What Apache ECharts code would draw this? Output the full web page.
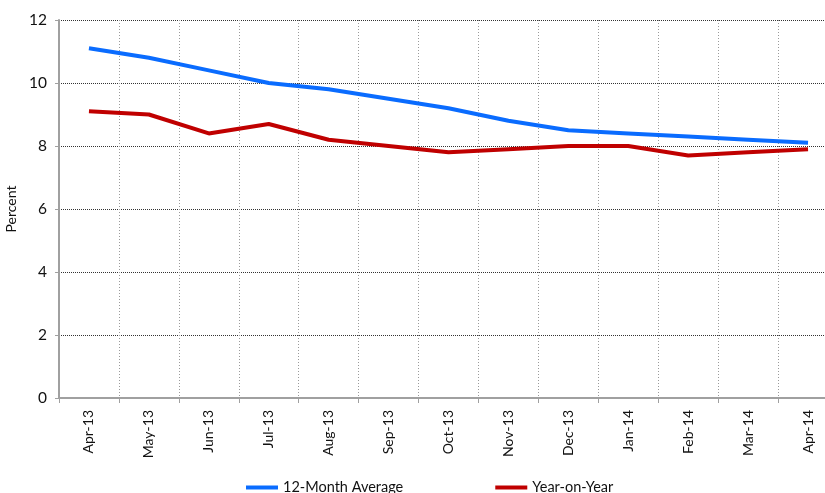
<!DOCTYPE html>
<html>
<head>
<meta charset="utf-8">
<script src="https://cdn.jsdelivr.net/npm/echarts@6/dist/echarts.min.js"></script>
<style>
  html, body { margin: 0; padding: 0; background: #fff; }
  #chart { width: 825px; height: 493px; }
</style>
</head>
<body>
<div id="chart"></div>
<script>
// Monthly inflation, percent
const months = ['Apr-13', 'May-13', 'Jun-13', 'Jul-13', 'Aug-13', 'Sep-13', 'Oct-13',
                'Nov-13', 'Dec-13', 'Jan-14', 'Feb-14', 'Mar-14', 'Apr-14'];
const avg12Month = [11.1, 10.8, 10.4, 10.0, 9.8, 9.5, 9.2, 8.8, 8.5, 8.4, 8.3, 8.2, 8.1];
const yearOnYear = [9.1, 9.0, 8.4, 8.7, 8.2, 8.0, 7.8, 7.9, 8.0, 8.0, 7.7, 7.8, 7.9];

const FONT = 'Lato, "Open Sans", sans-serif';

const chart = echarts.init(document.getElementById('chart'), null, { renderer: 'canvas' });
chart.setOption({
  animation: false,
  backgroundColor: '#ffffff',
  textStyle: { fontFamily: FONT, color: '#111' },
  // plot area runs past the right edge of the canvas
  grid: {
    left: 59, top: 20, height: 378, width: 779,
    containLabel: false,
    outerBoundsMode: 'none'
  },
  legend: {
    left: 241,
    top: 475,
    itemGap: 92,
    itemWidth: 32,
    itemHeight: 4,
    icon: 'rect',
    textStyle: { fontFamily: FONT, fontSize: 14.5, color: '#111', padding: [5, 0, 0, 0] },
    data: ['12-Month Average', 'Year-on-Year']
  },
  xAxis: {
    type: 'category',
    data: months,
    boundaryGap: true,
    axisLine: { lineStyle: { color: '#a0a0a0', width: 2 } },
    axisTick: { show: true, length: 5, lineStyle: { color: '#a0a0a0' } },
    axisLabel: { rotate: 90, margin: 12, fontSize: 14, fontFamily: FONT, color: '#111' },
    splitLine: { show: true, lineStyle: { color: '#9a9a9a', type: [1, 2], width: 1 } }
  },
  yAxis: {
    type: 'value',
    min: 0,
    max: 12,
    interval: 2,
    name: 'Percent',
    nameLocation: 'middle',
    nameGap: 37,
    nameTextStyle: { fontFamily: FONT, fontSize: 14, color: '#111' },
    axisLine: { show: true, lineStyle: { color: '#a0a0a0', width: 2 } },
    axisTick: { show: true, length: 4, lineStyle: { color: '#a0a0a0' } },
    axisLabel: { margin: 12, fontSize: 15.5, fontFamily: FONT, color: '#111' },
    splitLine: { show: true, lineStyle: { color: '#333', type: [1, 1], width: 1 } }
  },
  series: [
    {
      name: '12-Month Average',
      type: 'line',
      data: avg12Month,
      symbol: 'none',
      color: '#0A6CFF',
      lineStyle: { width: 4, color: '#0A6CFF' }
    },
    {
      name: 'Year-on-Year',
      type: 'line',
      data: yearOnYear,
      symbol: 'none',
      color: '#C00000',
      lineStyle: { width: 4, color: '#C00000' }
    }
  ]
});
</script>
</body>
</html>
